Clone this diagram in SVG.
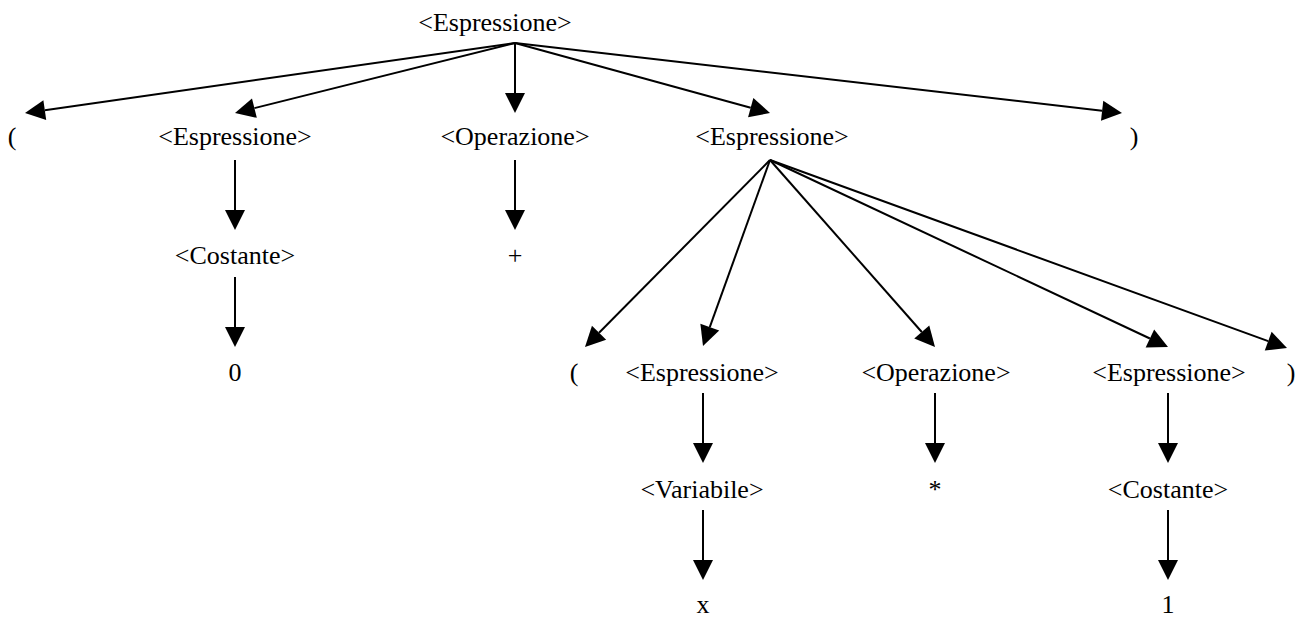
<svg xmlns="http://www.w3.org/2000/svg" width="1298" height="617" viewBox="0 0 1298 617">
<style>
text{font-family:"Liberation Serif","Times New Roman",serif;font-size:26px;fill:#000;text-anchor:middle}
.e line{stroke:#000;stroke-width:2;fill:none;marker-end:url(#ah)}
</style>
<defs>
<marker id="ah" markerUnits="userSpaceOnUse" markerWidth="20" markerHeight="20" refX="0" refY="10" orient="auto" overflow="visible">
<path d="M0,0 L20,10 L0,20 z" fill="#000"/>
</marker>
</defs>
<rect width="1298" height="617" fill="#fff"/>
<g id="edges" class="e">
<line x1="515" y1="43" x2="44.8" y2="110.17"/>
<line x1="515" y1="43" x2="254.4" y2="108.15"/>
<line x1="515" y1="43" x2="515" y2="93"/>
<line x1="515" y1="43" x2="750.71" y2="107.71"/>
<line x1="515" y1="43" x2="1102.13" y2="110.71"/>
<line x1="235" y1="160" x2="235" y2="210"/>
<line x1="235" y1="277" x2="235" y2="327"/>
<line x1="515" y1="160" x2="515" y2="210"/>
<line x1="770" y1="160" x2="599.07" y2="332.78"/>
<line x1="770" y1="160" x2="709.78" y2="327.18"/>
<line x1="770" y1="160" x2="921.77" y2="332"/>
<line x1="770" y1="160" x2="1149.9" y2="338.49"/>
<line x1="770" y1="160" x2="1268.2" y2="341.16"/>
<line x1="703" y1="393" x2="703" y2="443"/>
<line x1="703" y1="510" x2="703" y2="560"/>
<line x1="935" y1="393" x2="935" y2="443"/>
<line x1="1168" y1="393" x2="1168" y2="443"/>
<line x1="1168" y1="510" x2="1168" y2="560"/>
</g>
<g id="n-root"><text x="495" y="31">&lt;Espressione&gt;</text></g>
<g id="n-lp1"><text x="12" y="145">(</text></g>
<g id="n-esp1"><text x="235" y="145">&lt;Espressione&gt;</text></g>
<g id="n-op1"><text x="515" y="145">&lt;Operazione&gt;</text></g>
<g id="n-esp2"><text x="772" y="145">&lt;Espressione&gt;</text></g>
<g id="n-rp1"><text x="1134" y="145">)</text></g>
<g id="n-cost1"><text x="235" y="264">&lt;Costante&gt;</text></g>
<g id="n-plus"><text x="515" y="264">+</text></g>
<g id="n-zero"><text x="235" y="381">0</text></g>
<g id="n-lp2"><text x="574" y="381">(</text></g>
<g id="n-esp3"><text x="702" y="381">&lt;Espressione&gt;</text></g>
<g id="n-op2"><text x="936" y="381">&lt;Operazione&gt;</text></g>
<g id="n-esp4"><text x="1169" y="381">&lt;Espressione&gt;</text></g>
<g id="n-rp2"><text x="1291" y="381">)</text></g>
<g id="n-var"><text x="702" y="498">&lt;Variabile&gt;</text></g>
<g id="n-star"><text x="935" y="498">*</text></g>
<g id="n-cost2"><text x="1168" y="498">&lt;Costante&gt;</text></g>
<g id="n-x"><text x="703" y="613">x</text></g>
<g id="n-one"><text x="1168" y="613">1</text></g>
</svg>
